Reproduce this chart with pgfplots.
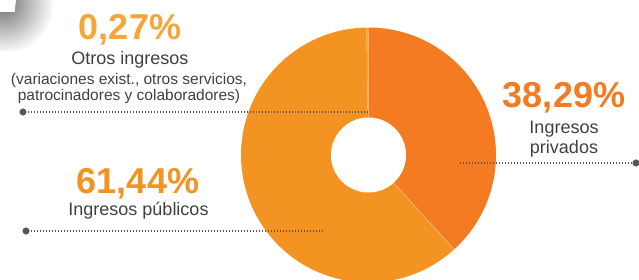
\documentclass[border=0pt]{standalone}
\usepackage{pgfplots}
\pgfplotsset{compat=1.18}
\usepackage{pgfplotstable}
\usepackage{fontspec}
\setmainfont{Liberation Sans}
\definecolor{priv}{HTML}{F47B22}
\definecolor{pub}{HTML}{F39322}
\definecolor{oth}{HTML}{F6A53A}
\definecolor{txt}{HTML}{404040}
\definecolor{dotc}{HTML}{555555}
\pgfplotstableread{
label value
privados 38.29
publicos 61.44
otros 0.27
}\shares
\pgfplotstablegetelem{0}{value}\of\shares \let\vPriv\pgfplotsretval
\pgfplotstablegetelem{1}{value}\of\shares \let\vPub\pgfplotsretval
\pgfplotstablegetelem{2}{value}\of\shares \let\vOth\pgfplotsretval
\pgfmathsetmacro{\aA}{90}
\pgfmathsetmacro{\aB}{90-3.6*\vPriv}
\pgfmathsetmacro{\aC}{\aB-3.6*\vPub}
\pgfmathsetmacro{\aD}{\aC-3.6*\vOth}
\def\cx{368.5}
\def\cy{124}
\def\R{127.5}
\def\r{37.5}
\begin{document}
\begin{tikzpicture}
\useasboundingbox (0,0) rectangle (639pt,279pt);
% corner shadow decoration
\begin{scope}
\clip (0,279pt) rectangle (60pt,228pt);
\shade[inner color=black!55, outer color=white] (4pt,275pt) circle (50pt);
\end{scope}
\fill[white] (0,279pt) -- (16pt,279pt) -- (14.5pt,267pt) -- (0,267pt) -- cycle;
\begin{axis}[
  at={(0,0)}, anchor=south west,
  scale only axis, width=639pt, height=279pt,
  xmin=0, xmax=639, ymin=0, ymax=279,
  hide axis, clip=true,
]
\addplot[fill=priv, draw=none, domain=\aB:\aA, samples=120, variable=\t]
  ({\cx+\R*cos(\t)},{\cy+\R*sin(\t)}) -- (axis cs:\cx,\cy) -- cycle;
\addplot[fill=pub, draw=none, domain=\aC:\aB, samples=160, variable=\t]
  ({\cx+\R*cos(\t)},{\cy+\R*sin(\t)}) -- (axis cs:\cx,\cy) -- cycle;
\addplot[fill=oth, draw=none, domain=\aD:\aC, samples=5, variable=\t]
  ({\cx+\R*cos(\t)},{\cy+\R*sin(\t)}) -- (axis cs:\cx,\cy) -- cycle;
% slice separators
\draw[white, opacity=0.45, line width=0.5pt] (axis cs:\cx,\cy) -- (axis cs:{\cx+\R*cos(\aB)},{\cy+\R*sin(\aB)});
\addplot[fill=white, draw=none, domain=0:360, samples=120, variable=\t]
  ({\cx+\r*cos(\t)},{\cy+\r*sin(\t)}) -- cycle;
% dotted leader lines
\draw[dotc, line width=1.1pt, dash pattern=on 0.9pt off 2.1pt] (axis cs:25,167) -- (axis cs:368,167);
\draw[dotc, line width=1.1pt, dash pattern=on 0.9pt off 2.1pt] (axis cs:28,48) -- (axis cs:323,48);
\draw[dotc, line width=1.1pt, dash pattern=on 0.9pt off 2.1pt] (axis cs:460,116) -- (axis cs:634,116);
\addplot[only marks, mark=*, mark size=3.3pt, color=dotc] coordinates {(23,167) (26,48) (636,116)};
% labels
\node[anchor=base, text=oth, font=\fontsize{36}{40}\selectfont\bfseries] at (axis cs:130,239) {0,27\%};
\node[anchor=base, text=txt, font=\fontsize{18}{20}\selectfont] at (axis cs:130,214) {Otros ingresos};
\node[anchor=base, text=txt, font=\fontsize{15.5}{16}\selectfont] at (axis cs:129,194) {(variaciones exist., otros servicios,};
\node[anchor=base, text=txt, font=\fontsize{15.5}{16}\selectfont] at (axis cs:129,178) {patrocinadores y colaboradores)};
\node[anchor=base, text=pub, font=\fontsize{36}{40}\selectfont\bfseries] at (axis cs:138,86) {61,44\%};
\node[anchor=base, text=txt, font=\fontsize{18}{20}\selectfont] at (axis cs:138.5,64) {Ingresos públicos};
\node[anchor=base, text=priv, font=\fontsize{36}{40}\selectfont\bfseries] at (axis cs:564,172) {38,29\%};
\node[anchor=base, text=txt, font=\fontsize{18}{20}\selectfont] at (axis cs:564,146) {Ingresos};
\node[anchor=base, text=txt, font=\fontsize{18}{20}\selectfont] at (axis cs:564,126) {privados};
\end{axis}
\end{tikzpicture}
\end{document}
